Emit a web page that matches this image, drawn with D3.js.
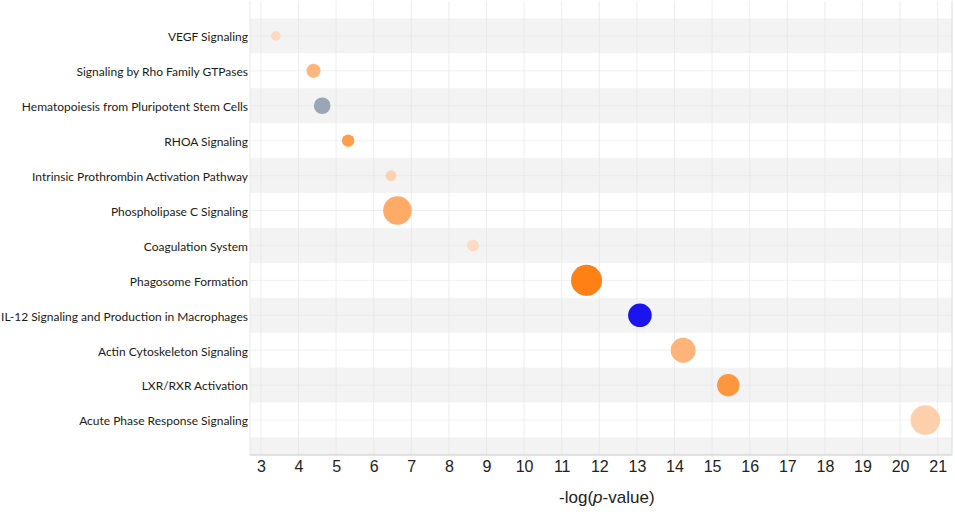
<!DOCTYPE html>
<html>
<head>
<meta charset="utf-8">
<script src="https://cdn.jsdelivr.net/npm/d3@7"></script>
<style>
  body { margin: 0; background: #fff; }
  svg { display: block; }
</style>
</head>
<body>
<div id="chart"></div>
<script>
// === Data ===
const pathways = [
  "VEGF Signaling",
  "Signaling by Rho Family GTPases",
  "Hematopoiesis from Pluripotent Stem Cells",
  "RHOA Signaling",
  "Intrinsic Prothrombin Activation Pathway",
  "Phospholipase C Signaling",
  "Coagulation System",
  "Phagosome Formation",
  "IL-12 Signaling and Production in Macrophages",
  "Actin Cytoskeleton Signaling",
  "LXR/RXR Activation",
  "Acute Phase Response Signaling"
];
const negLogP = [3.4, 4.4, 4.63, 5.32, 6.46, 6.63, 8.64, 11.66, 13.08, 14.23, 15.43, 20.67];
// bubble size (gene count, approx)
const geneCount = [10, 22, 31, 17, 13, 90, 16, 107, 62, 69, 56, 97];
// activation z-score (colour)
const zScore = [0.3, 1.3, -0.3, 2.0, 0.5, 1.6, 0.25, 2.8, -2.8, 1.35, 2.2, 0.6];
const xTicks = d3.range(3, 22);

const width = 955, height = 518;
const m = {top: 1, right: 3, bottom: 63, left: 250};
const w = width - m.left - m.right;
const h = height - m.top - m.bottom;

const svg = d3.select("#chart").append("svg")
  .attr("width", width)
  .attr("height", height);

const g = svg.append("g").attr("transform", `translate(${m.left},${m.top})`);

const x = d3.scaleLinear().domain([2.71, 21.38]).range([0, w]);
const y = d3.scalePoint().domain(pathways).range([0, h]).padding(1);
const step = y.step();
const r = d3.scaleSqrt().domain([0, 100]).range([0, 15]);
const color = d3.scaleLinear()
  .domain([-3, -0.3, 0, 3])
  .range(["#1208f2", "#9aa6b8", "#fde4d4", "#ff7a08"])
  .clamp(true);

// Alternating bands (one extra above and below the rows)
const bandIdx = d3.range(-1, pathways.length + 1);
g.selectAll(".band")
  .data(bandIdx)
  .join("rect")
  .attr("class", "band")
  .attr("x", 0)
  .attr("width", w)
  .attr("y", i => Math.max(0, y(pathways[0]) + (i - 0.5) * step))
  .attr("height", i => {
    const top = Math.max(0, y(pathways[0]) + (i - 0.5) * step);
    const bot = Math.min(h, y(pathways[0]) + (i + 0.5) * step);
    return Math.max(0, bot - top);
  })
  .attr("fill", i => (i % 2 === 0) ? "#f3f3f3" : "#ffffff");

// Grid lines
g.append("g")
  .selectAll("line")
  .data(xTicks)
  .join("line")
  .attr("x1", d => x(d)).attr("x2", d => x(d))
  .attr("y1", 0).attr("y2", h)
  .attr("stroke", "#e6e6e6")
  .attr("stroke-opacity", 0.7)
  .attr("stroke-width", 1);

g.append("g")
  .selectAll("line")
  .data(pathways)
  .join("line")
  .attr("x1", 0).attr("x2", w)
  .attr("y1", d => y(d)).attr("y2", d => y(d))
  .attr("stroke", "#e6e6e6")
  .attr("stroke-opacity", 0.6);

// Frame
g.append("line").attr("x1", 0).attr("x2", 0).attr("y1", 0).attr("y2", h)
  .attr("stroke", "#e8e8e8");
g.append("line").attr("x1", w).attr("x2", w).attr("y1", 0).attr("y2", h)
  .attr("stroke", "#dcdcdc");
g.append("line").attr("x1", 0).attr("x2", w).attr("y1", h).attr("y2", h)
  .attr("stroke", "#d8d8d8").attr("stroke-width", 1.5);

// Bubbles
const rows = pathways.map((p, i) => ({p, v: negLogP[i], n: geneCount[i], z: zScore[i]}));
g.selectAll(".dot")
  .data(rows)
  .join("circle")
  .attr("class", "dot")
  .attr("cx", d => x(d.v))
  .attr("cy", d => y(d.p))
  .attr("r", d => r(d.n))
  .attr("fill", d => color(d.z));

// Y axis labels
const yAxis = g.append("g")
  .call(d3.axisLeft(y).tickSize(0).tickPadding(2));
yAxis.select(".domain").remove();
yAxis.selectAll("text")
  .attr("font-family", "Lato, 'Open Sans', sans-serif")
  .attr("font-size", 12)
  .attr("dy", "0.4em")
  .attr("fill", "#1a1a1a");

// X axis
const xAxis = g.append("g")
  .attr("transform", `translate(0,${h})`)
  .call(d3.axisBottom(x).tickValues(xTicks).tickSize(0).tickPadding(6).tickFormat(d3.format("d")));
xAxis.select(".domain").remove();
xAxis.selectAll("text")
  .attr("font-family", "'Liberation Sans', Arial, sans-serif")
  .attr("font-size", 16)
  .attr("fill", "#222");

// Axis title
const title = svg.append("text")
  .attr("x", m.left + x(12.2))
  .attr("y", 503)
  .attr("text-anchor", "middle")
  .attr("font-family", "'Liberation Sans', Arial, sans-serif")
  .attr("font-size", 17)
  .attr("fill", "#222");
title.append("tspan").text("-log(");
title.append("tspan").attr("font-style", "italic").text("p");
title.append("tspan").text("-value)");
</script>
</body>
</html>
